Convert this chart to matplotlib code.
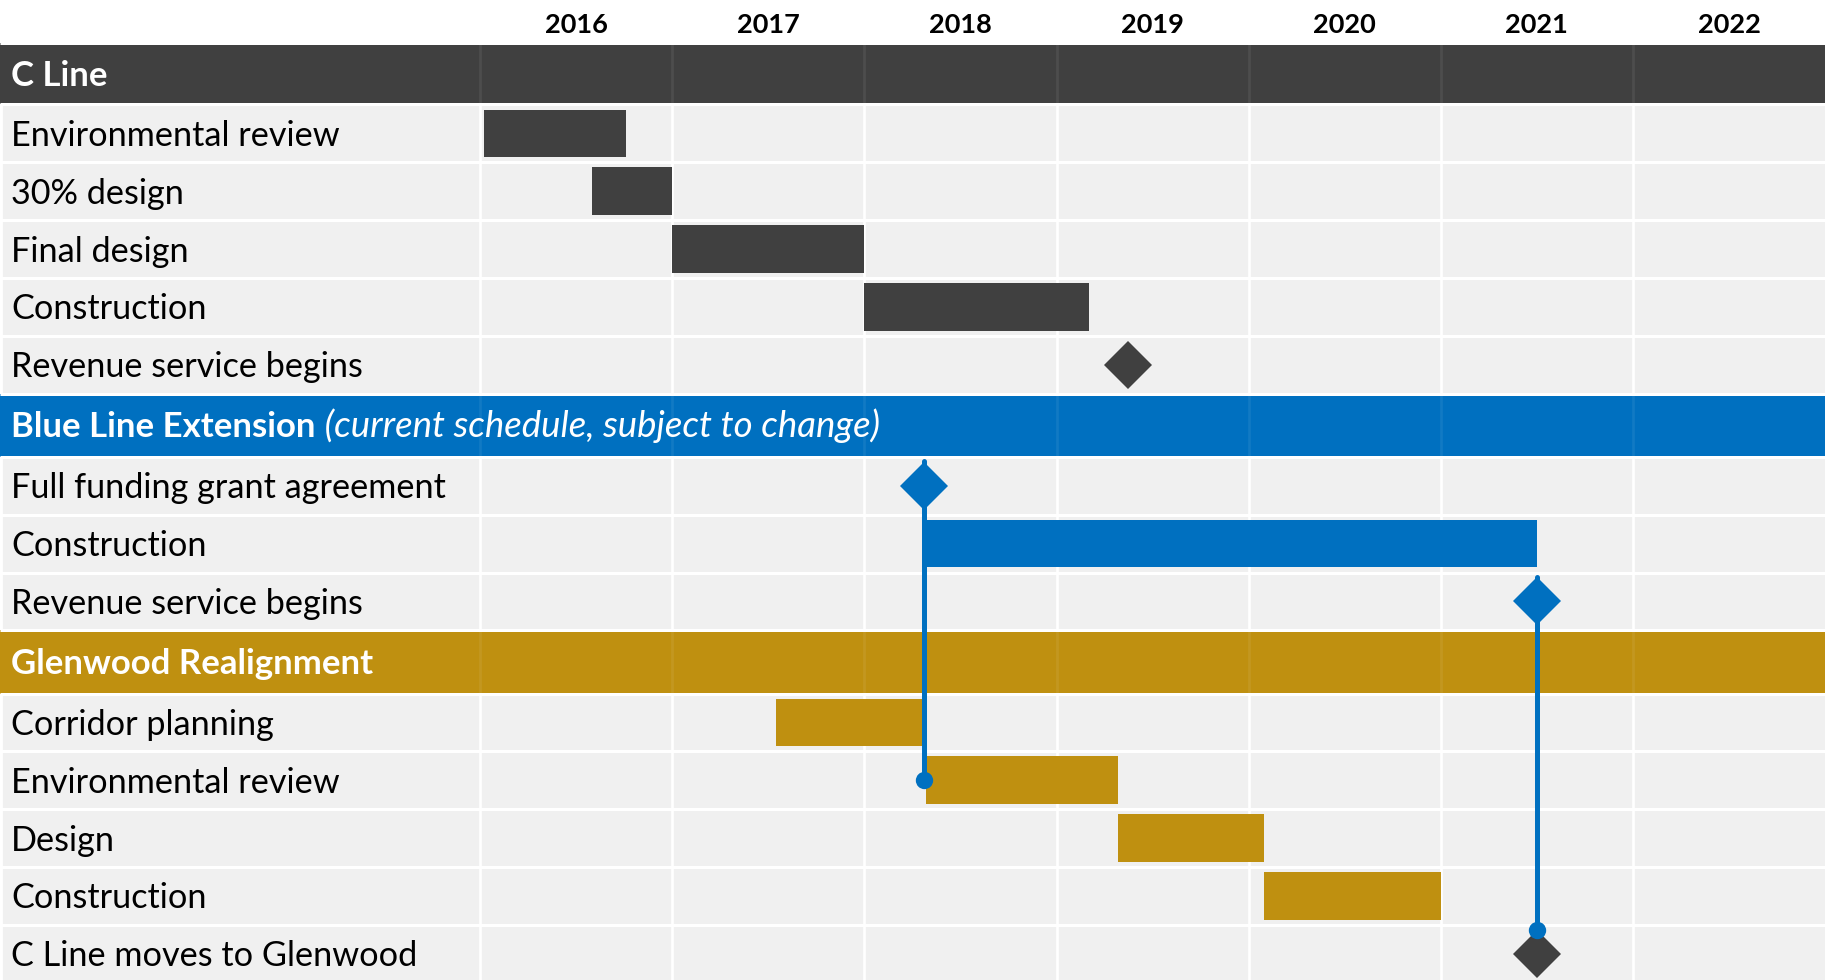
import matplotlib
matplotlib.use("Agg")
import matplotlib.pyplot as plt

plt.rcParams['font.family'] = ['Lato', 'DejaVu Sans']

# ---------------- data ----------------
years = [2016, 2017, 2018, 2019, 2020, 2021, 2022]

c_line_title = "C Line"
c_line_tasks = ["Environmental review", "30% design", "Final design", "Construction"]
c_line_start = [2016.02, 2016.58, 2017.00, 2018.00]
c_line_end = [2016.76, 2017.00, 2018.00, 2019.17]
c_line_milestone_label = "Revenue service begins"
c_line_milestone = 2019.37

blue_title = "Blue Line Extension"
blue_subtitle = "(current schedule, subject to change)"
blue_ffga_label = "Full funding grant agreement"
blue_ffga = 2018.31
blue_tasks = ["Construction"]
blue_start = [2018.31]
blue_end = [2021.50]
blue_revenue_label = "Revenue service begins"
blue_revenue = 2021.50

gold_title = "Glenwood Realignment"
gold_tasks = ["Corridor planning", "Environmental review", "Design", "Construction"]
gold_start = [2017.54, 2018.32, 2019.32, 2020.08]
gold_end = [2018.30, 2019.32, 2020.08, 2021.00]
gold_milestone_label = "C Line moves to Glenwood"
gold_milestone = 2021.50

# ---------------- style / layout ----------------
DARK = "#404040"
BLUE = "#0070C0"
GOLD = "#BF9010"
CELL = "#F0F0F0"

W, H, DPI = 1825, 980, 100
PX2PT = 72.0 / DPI
fig = plt.figure(figsize=(W / DPI, H / DPI), dpi=DPI)
fig.patch.set_facecolor("white")
ax = fig.add_axes([0, 0, 1, 1])
ax.set_axis_off()

x_left = years[0] - 480 / 192.0
x_right = years[-1] + 1
ax.set_xlim(x_left, x_right)
ax.set_ylim(H, 0)   # y in pixels from the top

YEAR_BAND = 43.5
TASK_H = 57.8
HDR_H = {"hdr_dark": 61.0, "hdr_blue": 63.4, "hdr_gold": 63.2}

rows = []  # (label, kind)
rows.append((c_line_title, "hdr_dark"))
rows += [(t, "task") for t in c_line_tasks]
rows.append((c_line_milestone_label, "task"))
rows.append((blue_title, "hdr_blue"))
rows.append((blue_ffga_label, "task"))
rows += [(t, "task") for t in blue_tasks]
rows.append((blue_revenue_label, "task"))
rows.append((gold_title, "hdr_gold"))
rows += [(t, "task") for t in gold_tasks]
rows.append((gold_milestone_label, "task"))
n = len(rows)

tops = []
y = YEAR_BAND
for label, kind in rows:
    tops.append(y)
    y += HDR_H.get(kind, TASK_H)
bottoms = tops[1:] + [y]
centers = [(a + b) / 2 for a, b in zip(tops, bottoms)]

gap_lw = 3 * PX2PT

# background cells
ax.fill_between([x_left, x_right], YEAR_BAND, H, color=CELL, zorder=0, lw=0)
for yr in years:
    ax.plot([yr, yr], [YEAR_BAND, H], color="white", lw=gap_lw * 0.9, zorder=1,
            solid_capstyle="butt")
ax.plot([x_left, x_left], [YEAR_BAND, H], color="white", lw=gap_lw * 1.6, zorder=1)

hdr_colors = {"hdr_dark": DARK, "hdr_blue": BLUE, "hdr_gold": GOLD}
for i, (label, kind) in enumerate(rows):
    if kind in hdr_colors:
        ax.fill_between([x_left, x_right], tops[i], bottoms[i],
                        color=hdr_colors[kind], lw=0, zorder=2)
        for yr in years:
            ax.plot([yr, yr], [tops[i], bottoms[i]], color="white", alpha=0.07,
                    lw=gap_lw * 0.9, zorder=2.5, solid_capstyle="butt")

for yy in tops + [bottoms[-1]]:
    ax.plot([x_left, x_right], [yy, yy], color="white", lw=gap_lw, zorder=3,
            solid_capstyle="butt")

# year labels
for yr in years:
    ax.text(yr + 0.5, 33, str(yr), ha="center", va="baseline",
            fontsize=19.5, fontweight="bold", color="black", zorder=5)

# row labels
tx = x_left + 11 / 192.0
for i, (label, kind) in enumerate(rows):
    if kind == "task":
        ax.text(tx, centers[i] + 12.5, label, ha="left", va="baseline",
                fontsize=24.7, color="black", zorder=5)
    else:
        t = ax.text(tx, centers[i] + 11.8, label, ha="left", va="baseline",
                    fontsize=25, fontweight="bold", color="white", zorder=5)
        if kind == "hdr_blue":
            ax.annotate(" " + blue_subtitle, xy=(1, 0), xycoords=t,
                        ha="left", va="bottom", fontsize=26.4,
                        fontstyle="italic", color="white", zorder=5)

BAR_H = 47.7
DIA_MS = 24
DIA_HALF = DIA_MS * 1.4142 / 2 / PX2PT  # px

def bars(first_row, starts, ends, color):
    for j, (s, e) in enumerate(zip(starts, ends)):
        ax.barh(centers[first_row + j], e - s, left=s, height=BAR_H,
                color=color, lw=0, zorder=4)

# C line
base = 1
bars(base, c_line_start, c_line_end, DARK)
c_ms_row = base + len(c_line_tasks)
ax.plot([c_line_milestone], [centers[c_ms_row]], marker="D", ms=DIA_MS, mew=0,
        color=DARK, zorder=6, ls="none")

# Blue line
b_hdr = c_ms_row + 1
ffga_row = b_hdr + 1
bcon_row = ffga_row + 1
brev_row = bcon_row + len(blue_tasks)
bars(bcon_row, blue_start, blue_end, BLUE)

# Glenwood
g_hdr = brev_row + 1
gbase = g_hdr + 1
bars(gbase, gold_start, gold_end, GOLD)
gms_row = gbase + len(gold_tasks)

# connectors
line_lw = 5 * PX2PT
env_row = gbase + 1
ax.plot([blue_ffga, blue_ffga], [tops[ffga_row] + 4, centers[env_row]], color=BLUE,
        lw=line_lw, solid_capstyle="round", zorder=5)
ax.plot([blue_ffga], [centers[env_row]], marker="o", ms=12.5, mew=0, color=BLUE, zorder=5.5)
end_y = centers[gms_row] - DIA_HALF
ax.plot([blue_revenue, blue_revenue], [tops[brev_row] + 4, end_y], color=BLUE,
        lw=line_lw, solid_capstyle="round", zorder=5)
ax.plot([blue_revenue], [end_y], marker="o", ms=12.5, mew=0, color=BLUE, zorder=6.5)

# milestones
ax.plot([blue_ffga], [centers[ffga_row]], marker="D", ms=DIA_MS, mew=0, color=BLUE,
        zorder=6, ls="none")
ax.plot([blue_revenue], [centers[brev_row]], marker="D", ms=DIA_MS, mew=0, color=BLUE,
        zorder=6, ls="none")
ax.plot([gold_milestone], [centers[gms_row]], marker="D", ms=DIA_MS, mew=0, color=DARK,
        zorder=6, ls="none")

fig.savefig("out.png", dpi=DPI, facecolor="white")
